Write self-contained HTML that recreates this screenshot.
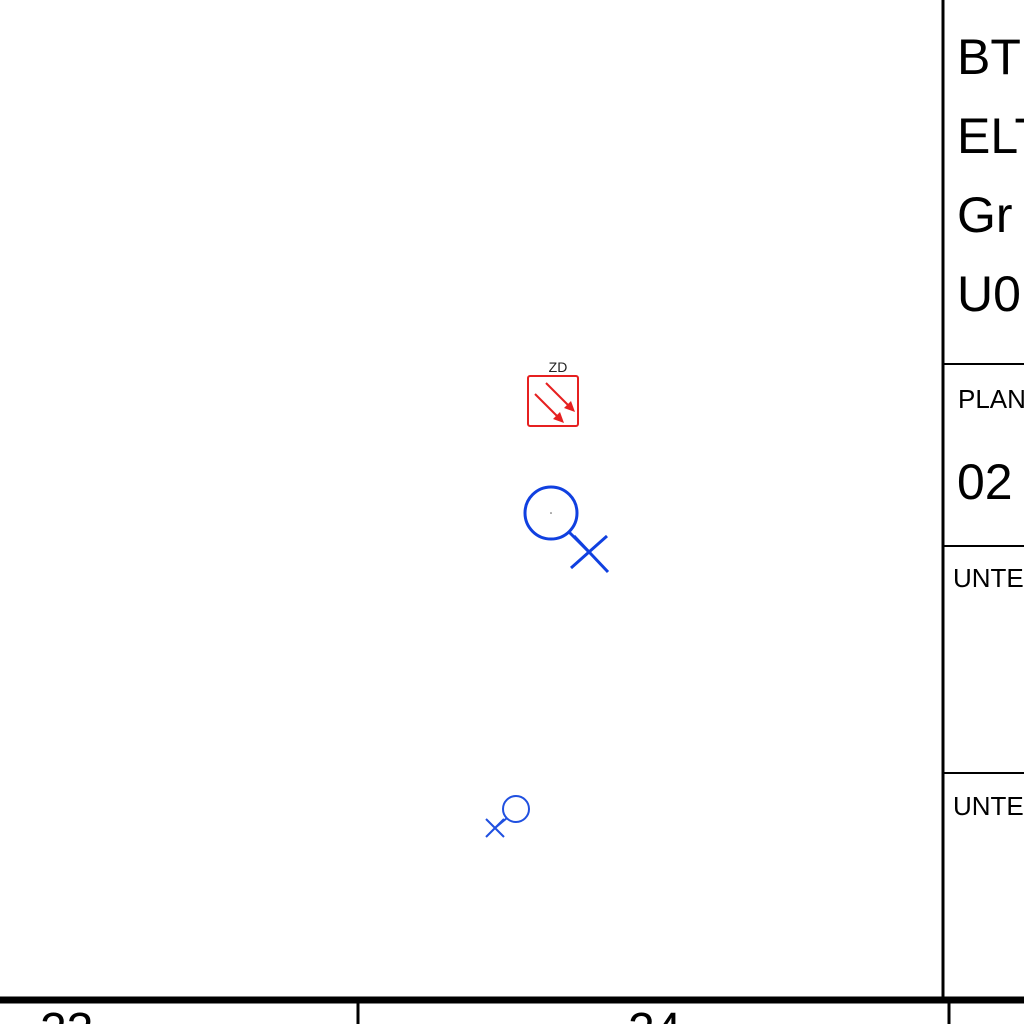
<!DOCTYPE html>
<html><head><meta charset="utf-8"><style>
html,body{margin:0;padding:0;background:#fff;overflow:hidden}
svg{display:block}
text{font-family:"Liberation Sans",sans-serif}
.tb{font-family:"DejaVu Sans",sans-serif}
</style></head><body>
<svg width="1024" height="1024" viewBox="0 0 1024 1024">
<rect width="1024" height="1024" fill="#fff"/>
<g stroke="#000" fill="none">
<line x1="943" y1="0" x2="943" y2="1000" stroke-width="3"/>
<line x1="943" y1="364" x2="1024" y2="364" stroke-width="2"/>
<line x1="943" y1="546" x2="1024" y2="546" stroke-width="2"/>
<line x1="943" y1="773" x2="1024" y2="773" stroke-width="2"/>
</g>
<g fill="#000" class="tb">
<text x="957" y="74" font-size="50">BT</text>
<text x="957" y="153" font-size="50">ELT</text>
<text x="957" y="232" font-size="50">Gr</text>
<text x="957" y="311" font-size="50">U0</text>
<text x="958" y="408" font-size="26">PLAN</text>
<text x="957" y="499" font-size="50">02</text>
<text x="953" y="587" font-size="26">UNTE</text>
<text x="953" y="815" font-size="26">UNTE</text>
</g>
<g stroke="#000">
<line x1="0" y1="1000" x2="1024" y2="1000" stroke-width="7"/>
<line x1="358" y1="1000" x2="358" y2="1024" stroke-width="3"/>
<line x1="949" y1="1000" x2="949" y2="1024" stroke-width="3"/>
</g>
<text x="40" y="1046" font-size="48" fill="#000">23</text>
<text x="628" y="1046" font-size="48" fill="#000">24</text>
<g>
<text x="558" y="372" font-size="14" text-anchor="middle" fill="#222">ZD</text>
<rect x="528" y="376" width="50" height="50" rx="2" fill="none" stroke="#e62020" stroke-width="2"/>
<g stroke="#e62020" stroke-width="2"><line x1="546" y1="383" x2="570" y2="407"/><line x1="535" y1="394" x2="559" y2="418"/></g>
<polygon points="575,412 564,408 571,401" fill="#e62020"/>
<polygon points="564,423 553,419 560,412" fill="#e62020"/>
</g>
<g stroke="#1040e0" fill="none" stroke-width="3">
<circle cx="551" cy="513" r="26"/>
<line x1="569" y1="532" x2="590" y2="553"/>
<line x1="571" y1="568" x2="607" y2="536"/>
<line x1="574" y1="536" x2="608" y2="572"/>
</g>
<circle cx="551" cy="513" r="0.8" fill="#555"/>
<g stroke="#2050e0" fill="none" stroke-width="2">
<circle cx="516" cy="809" r="13"/>
<line x1="507" y1="818" x2="495" y2="828"/>
<line x1="486" y1="819" x2="504" y2="837"/>
<line x1="486" y1="837" x2="504" y2="819"/>
</g>
</svg>
</body></html>
